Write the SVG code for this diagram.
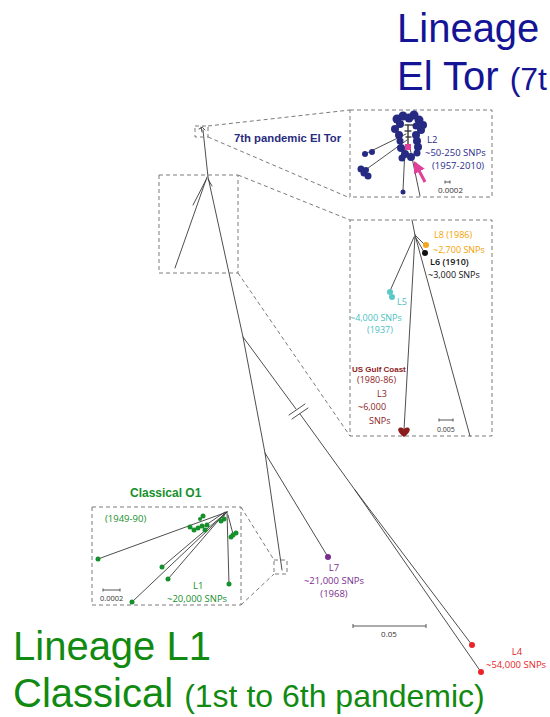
<svg xmlns="http://www.w3.org/2000/svg" width="550" height="717" viewBox="0 0 550 717">
<style>
.tree{stroke:#3a3a3a;stroke-width:0.9;fill:none;stroke-linecap:round}
.dash{stroke:#7a7a7a;stroke-width:1;fill:none;stroke-dasharray:4 3}
.big{font-family:"Liberation Sans",Arial,sans-serif;font-size:40px}
.mid{font-family:"Liberation Sans",Arial,sans-serif;font-size:32px}
.lab{font-family:"Open Sans","Liberation Sans",sans-serif;font-size:9.5px}
.sm{font-family:"Open Sans","Liberation Sans",sans-serif;font-size:9px}
.tiny{font-family:"Open Sans","Liberation Sans",sans-serif;font-size:7.5px;fill:#333}
.hd{font-family:"Liberation Sans",Arial,sans-serif;font-weight:bold}
.scale{stroke:#444;stroke-width:0.9;fill:none}
.navy{fill:#262a82}
.green{fill:#16902b}
</style>
<defs>
<marker id="pinkhead" viewBox="0 0 10 10" refX="8" refY="5" markerWidth="4" markerHeight="4" orient="auto">
<path d="M0,0 L10,5 L0,10 z" fill="#e0409a"/>
</marker>
</defs>

<g id="connectors">
<polyline class="tree" points="203,130 208,177 243,337 265,453 282,570"/>
<line class="tree" x1="207" y1="177" x2="175" y2="268"/>
<line class="tree" x1="206" y1="180" x2="193" y2="205"/>
<line class="tree" x1="208" y1="179" x2="212" y2="186"/>
<line class="tree" x1="265" y1="453" x2="328" y2="557"/>
<line class="tree" x1="243" y1="337" x2="296" y2="409"/>
<line class="tree" x1="300" y1="414" x2="355" y2="490"/>
<line class="tree" x1="355" y1="490" x2="472" y2="645"/>
<line class="tree" x1="355" y1="490" x2="481" y2="672"/>
<line class="tree" x1="289" y1="415" x2="305" y2="404"/>
<line class="tree" x1="292" y1="419" x2="308" y2="408"/>
<path class="tree" d="M199,129 L203,127 M201,127 L202,132 M203,128 L205,130"/>
<line class="dash" x1="208" y1="126" x2="350" y2="110"/>
<line class="dash" x1="208" y1="137" x2="350" y2="198"/>
<line class="dash" x1="238" y1="175" x2="350" y2="220"/>
<line class="dash" x1="238" y1="273" x2="350" y2="436"/>
<line class="dash" x1="241" y1="507" x2="274" y2="560"/>
<line class="dash" x1="241" y1="605" x2="274" y2="574"/>
</g>

<g id="box-eltor-mini"><rect class="dash" x="195" y="126" width="13" height="11"/></g>
<g id="box-trunk-mini"><rect class="dash" x="159" y="175" width="79" height="98"/></g>
<g id="box-l1-mini"><rect class="dash" x="274" y="560" width="13" height="14"/></g>

<g id="title-l2">
<text class="big" x="397" y="42" fill="#141496">Lineage</text>
<text x="397" y="90" fill="#141496"><tspan class="big">El Tor </tspan><tspan class="mid">(7t</tspan></text>
</g>

<g id="label-eltor">
<text class="hd" x="234" y="142" style="font-size:11.3px" fill="#2a2c80">7th pandemic El Tor</text>
</g>

<g id="inset-eltor">
<rect class="dash" x="350" y="110" width="142" height="87"/>
<line class="tree" x1="406" y1="134" x2="367" y2="153"/>
<line class="tree" x1="407" y1="140" x2="364" y2="171"/>
<line class="tree" x1="405" y1="148" x2="403" y2="191"/>
<line class="tree" x1="410" y1="148" x2="420" y2="196"/>
<g class="navy">
<circle cx="397" cy="119" r="4.5"/><circle cx="403" cy="116" r="4.5"/><circle cx="409" cy="118" r="4.5"/><circle cx="414" cy="115" r="4.5"/><circle cx="419" cy="120" r="4.5"/><circle cx="423" cy="125" r="4"/><circle cx="400" cy="124" r="4"/><circle cx="395" cy="129" r="4"/><circle cx="421" cy="130" r="4"/><circle cx="416" cy="126" r="3.5"/>
<circle cx="399" cy="135" r="4"/><circle cx="416" cy="135" r="4"/><circle cx="417" cy="141" r="4"/><circle cx="400" cy="141" r="3.5"/><circle cx="418" cy="147" r="4"/><circle cx="401" cy="148" r="4"/><circle cx="405" cy="154" r="4"/><circle cx="411" cy="157" r="4"/><circle cx="402" cy="158" r="3.5"/><circle cx="417" cy="153" r="3.5"/>
<circle cx="365" cy="154" r="3"/><circle cx="372" cy="152" r="3"/>
<circle cx="361" cy="169" r="3.5"/><circle cx="364" cy="173" r="3.5"/><circle cx="368" cy="176" r="3.5"/><circle cx="366" cy="170" r="3"/>
<circle cx="403" cy="192" r="2.5"/>
</g>
<path class="tree" d="M405,125 L413,125 M408,125 L408,147 M405,131 L411,131 M406,137 L411,137" stroke="#fff" stroke-width="1.6"/>
<path class="tree" d="M405,125 L413,125 M408,125 L408,147 M405,131 L411,131 M406,137 L411,137"/>
<rect x="405" y="144" width="6" height="6" fill="#e0409a"/>
<line x1="425" y1="182" x2="415" y2="163" stroke="#e0409a" stroke-width="3" marker-end="url(#pinkhead)"/>
<text class="lab" x="427" y="143" fill="#2a2c8c">L2</text>
<text class="lab" x="425" y="156" fill="#2a2c8c">~50-250 SNPs</text>
<text class="lab" x="432" y="169" fill="#2a2c8c">(1957-2010)</text>
<path class="scale" d="M445,182 L450,182 M445,180.5 L445,183.5 M450,180.5 L450,183.5"/>
<text class="tiny" x="438" y="193" style="font-size:8px">0.0002</text>
</g>

<g id="inset-l3-l8">
<rect class="dash" x="350" y="220" width="142" height="216"/>
<line class="tree" x1="412" y1="220" x2="415" y2="235"/>
<line class="tree" x1="415" y1="235" x2="425" y2="245"/>
<line class="tree" x1="416" y1="238" x2="424" y2="252"/>
<line class="tree" x1="414" y1="237" x2="390" y2="291"/>
<line class="tree" x1="415" y1="236" x2="404" y2="430"/>
<line class="tree" x1="415" y1="235" x2="470" y2="436"/>
<circle cx="426" cy="245" r="3" fill="#f4a61c"/>
<circle cx="425" cy="253" r="3" fill="#111"/>
<circle cx="390" cy="292" r="3" fill="#5bc8c8"/>
<circle cx="392" cy="297" r="3" fill="#5bc8c8"/>
<path d="M404,437 C397,432 397,428 400.5,427.5 C402.5,427.3 404,429 404,429.5 C404,429 405.5,427.3 407.5,427.5 C411,428 411,432 404,437 Z" fill="#8c1c1c"/>
<text class="sm" x="434" y="238" fill="#f4a000">L8 (1986)</text>
<text class="sm" x="433" y="253" fill="#f4a000">~2,700 SNPs</text>
<text class="sm" x="430" y="265" fill="#111" font-weight="600">L6 (1910)</text>
<text class="sm" x="428" y="278" fill="#111">~3,000 SNPs</text>
<text class="sm" x="397" y="305" fill="#4bbfbf">L5</text>
<text class="sm" x="350" y="321" fill="#4bbfbf">~4,000 SNPs</text>
<text class="sm" x="367" y="333" fill="#4bbfbf">(1937)</text>
<text class="hd" x="352" y="372" style="font-size:8px" fill="#8c1c1c">US Gulf Coast</text>
<text class="sm" x="357" y="383" fill="#8c1c1c">(1980-86)</text>
<text class="sm" x="377" y="397" fill="#8c1c1c">L3</text>
<text class="sm" x="358" y="410" fill="#8c1c1c">~6,000</text>
<text class="sm" x="369" y="424" fill="#8c1c1c">SNPs</text>
<path class="scale" d="M439,420 L453,420 M439,418.5 L439,421.5 M453,418.5 L453,421.5"/>
<text class="tiny" x="437" y="432" style="font-size:7px">0.005</text>
</g>

<g id="inset-classical">
<text class="hd" x="130" y="497" style="font-size:12px" fill="#16902b">Classical O1</text>
<rect class="dash" x="92" y="507" width="149" height="98"/>
<text class="lab" x="105" y="522" fill="#16902b">(1949-90)</text>
<line class="tree" x1="227" y1="512" x2="98" y2="559"/>
<line class="tree" x1="227" y1="512" x2="132" y2="602"/>
<line class="tree" x1="227" y1="512" x2="162" y2="567"/>
<line class="tree" x1="224" y1="514" x2="168" y2="579"/>
<line class="tree" x1="227" y1="512" x2="229" y2="584"/>
<line class="tree" x1="228" y1="515" x2="233" y2="534"/>
<line class="tree" x1="226" y1="512" x2="222" y2="520"/>
<line class="tree" x1="225" y1="512" x2="203" y2="527"/>
<g class="green">
<circle cx="98" cy="559" r="2.5"/><circle cx="132" cy="602" r="2.5"/><circle cx="162" cy="567" r="2.5"/><circle cx="168" cy="579" r="2.5"/><circle cx="229" cy="584" r="2.5"/>
<circle cx="190" cy="527" r="2.5"/><circle cx="194" cy="530" r="2.5"/><circle cx="198" cy="528" r="2.5"/><circle cx="202" cy="526" r="2.5"/><circle cx="205" cy="530" r="2.5"/><circle cx="207" cy="525" r="2.5"/><circle cx="203" cy="516" r="2.5"/><circle cx="200" cy="519" r="2"/>
<circle cx="221" cy="521" r="2.5"/><circle cx="224" cy="519" r="2.5"/>
<circle cx="233" cy="535" r="2.5"/><circle cx="236" cy="533" r="2.5"/><circle cx="231" cy="537" r="2.5"/>
</g>
<text class="lab" x="193" y="589" fill="#16902b">L1</text>
<text class="lab" x="167" y="602" fill="#16902b">~20,000 SNPs</text>
<path class="scale" d="M103,590 L120,590 M103,588.5 L103,591.5 M120,588.5 L120,591.5"/>
<text class="tiny" x="100" y="601">0.0002</text>
</g>

<g id="L7">
<circle cx="328" cy="557" r="3" fill="#7b2d8e"/>
<text class="lab" x="334" y="571" text-anchor="middle" fill="#7b2d8e">L7</text>
<text class="lab" x="334" y="584" text-anchor="middle" fill="#7b2d8e">~21,000 SNPs</text>
<text class="lab" x="334" y="597" text-anchor="middle" fill="#7b2d8e">(1968)</text>
</g>

<g id="L4">
<circle cx="472" cy="645" r="3" fill="#e8262a"/>
<circle cx="481" cy="672" r="3" fill="#e8262a"/>
<text class="lab" x="517" y="655" text-anchor="middle" fill="#e8262a">L4</text>
<text class="lab" x="486" y="668" fill="#e8262a">~54,000 SNPs</text>
</g>

<g id="scale-main">
<path class="scale" d="M353,626 L426,626 M353,624 L353,628 M426,624 L426,628"/>
<text class="tiny" x="389" y="637" text-anchor="middle" style="font-size:8px">0.05</text>
</g>

<g id="title-l1">
<text class="big" x="13" y="660" fill="#118a11">Lineage L1</text>
<text x="13" y="707" fill="#118a11"><tspan class="big">Classical </tspan><tspan class="mid">(1st to 6th pandemic)</tspan></text>
</g>
</svg>
